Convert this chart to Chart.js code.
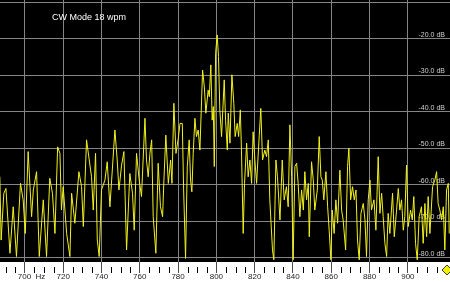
<!DOCTYPE html>
<html>
<head>
<meta charset="utf-8">
<script src="https://cdn.jsdelivr.net/npm/chart.js@4/dist/chart.umd.min.js"></script>
<style>
  html, body { margin: 0; padding: 0; background: #000; }
  #wrap { width: 450px; height: 282px; }
</style>
</head>
<body>
<div id="wrap"><canvas id="c" width="450" height="282"></canvas></div>
<script>
// ---- data ----
const titleText = 'CW Mode 18 wpm';
const majorHz = [700, 720, 740, 760, 780, 800, 820, 840, 860, 880, 900];
const minorHz = [690, 695, 705, 710, 715, 725, 730, 735, 745, 750, 755, 765, 770, 775, 785, 790, 795, 805, 810, 815, 825, 830, 835, 845, 850, 855, 865, 870, 875, 885, 890, 895, 905, 910, 915, 920];
const dbTicks = [-10, -20, -30, -40, -50, -60, -70, -80];
const freqHz = [
  686.9,687.6,689.0,690.1,692.2,693.9,695.6,697.7,699.1,700.2,
  701.7,703.5,704.4,706.1,707.5,709.6,711.3,713.0,714.4,715.7,
  717.1,718.3,719.1,720.0,721.8,723.5,724.4,726.1,728.2,729.6,
  730.5,732.2,733.6,734.8,735.7,736.9,737.8,738.8,740.0,741.8,
  743.0,744.4,747.0,748.2,749.1,750.5,751.7,753.1,754.8,756.2,
  757.1,758.3,759.7,760.9,762.7,763.5,764.4,
  765.3,766.2,767.0,768.4,769.6,770.8,771.9,772.6,773.6,774.9,
  776.1,776.8,777.8,778.9,780.1,781.0,782.2,782.9,783.9,784.8,
  785.8,786.5,787.2,787.9,788.8,789.6,790.5,791.4,792.8,793.7,
  794.5,795.7,796.3,797.1,797.8,798.4,798.9,799.6,800.4,801.1,
  801.8,802.7,803.6,804.1,804.8,805.7,806.2,807.1,808.1,809.1,
  809.8,810.9,811.6,812.5,813.1,814.0,814.7,815.8,816.6,817.5,
  818.4,819.2,820.1,821.0,822.4,823.2,824.1,825.3,826.2,827.1,
  827.9,829.3,830.0,831.1,831.9,833.2,834.4,835.4,836.6,837.5,
  838.4,839.3,840.1,841.0,841.9,842.7,
  843.6,844.5,845.4,846.2,847.1,848.0,848.5,849.7,850.6,851.4,
  852.7,853.7,854.6,855.3,856.1,857.2,858.1,858.9,859.8,860.5,
  861.5,862.4,863.3,864.5,865.4,866.2,867.5,868.5,869.2,870.1,
  871.1,872.0,872.9,873.7,874.6,875.5,876.7,877.6,878.4,879.3,
  880.2,881.0,882.3,883.3,884.5,885.4,886.3,887.1,888.0,888.9,
  889.7,890.6,892.0,892.9,894.1,895.0,895.8,896.7,897.6,898.4,
  899.3,900.2,901.4,902.3,903.1,904.0,904.9,905.9,907.1,908.0,
  908.9,909.8,910.6,911.5,912.9,914.1,915.0,915.8,916.7,917.6,
  918.5,919.3,920.2,921.1,921.6
];
const levelDb = [
  -57.8,-75.1,-62.3,-61.0,-78.7,-66.0,-79.6,-59.6,-64.1,-73.3,
  -50.9,-68.7,-61.4,-56.4,-79.6,-64.1,-79.6,-58.2,-62.3,-73.3,
  -49.6,-51.4,-66.9,-60.5,-73.3,-79.6,-62.3,-70.5,-56.4,-60.5,
  -71.4,-47.7,-53.2,-57.8,-66.9,-51.4,-75.1,-79.6,-61.4,-58.7,
  -53.7,-66.0,-45.0,-53.2,-61.4,-54.6,-50.9,-77.8,-56.9,-62.3,
  -72.4,-51.4,-58.7,-63.2,-41.8,-53.2,-57.8,
  -51.4,-47.7,-68.7,-78.7,-54.1,-66.0,-68.7,-58.7,-46.4,-59.6,
  -53.2,-59.6,-37.7,-51.4,-47.3,-43.2,-43.2,-61.4,-80.1,-55.0,
  -47.7,-58.7,-61.9,-51.4,-41.8,-46.8,-45.0,-50.5,-28.6,-33.2,
  -40.4,-34.1,-35.9,-27.2,-42.3,-38.6,-55.0,-24.0,-19.0,-24.9,
  -39.5,-46.8,-36.8,-31.3,-42.3,-50.5,-40.4,-48.6,-29.9,-37.7,
  -46.8,-43.2,-46.8,-39.5,-50.5,-73.3,-59.6,-48.6,-57.8,-53.2,
  -59.6,-45.5,-53.2,-59.6,-46.4,-39.1,-53.2,-50.5,-52.3,-47.7,
  -64.1,-77.8,-80.5,-53.2,-57.8,-69.6,-53.2,-64.1,-60.5,-66.0,
  -43.6,-57.8,-80.5,-55.0,-54.1,-59.6,
  -68.7,-61.4,-66.9,-56.4,-64.1,-59.6,-74.2,-53.7,-58.7,-66.9,
  -61.4,-46.8,-57.8,-58.7,-64.1,-56.4,-66.0,-72.4,-80.5,-66.9,
  -73.3,-64.1,-70.5,-56.0,-66.9,-69.6,-77.8,-55.0,-50.0,-64.1,
  -60.5,-64.1,-61.4,-75.1,-80.5,-67.8,-65.1,-69.6,-79.6,-64.1,
  -58.7,-66.9,-64.1,-72.4,-52.3,-67.8,-62.3,-68.7,-76.0,-79.6,
  -67.8,-73.3,-62.3,-74.2,-66.9,-61.0,-66.9,-64.1,-72.4,-68.7,
  -54.6,-71.4,-66.9,-69.6,-63.2,-76.0,-80.5,-68.7,-66.0,-76.0,
  -65.1,-74.2,-63.2,-73.3,-60.5,-58.7,-56.4,-65.1,-66.9,-69.6,
  -66.0,-77.8,-61.4,-59.6,-73.3
];
const xRange = [687, 922];
const yRange = [-81.1, -9.45];

// ---- chart ----
const points = freqHz.map((f, i) => ({ x: f, y: levelDb[i] }));
const FONT = "'Liberation Sans', Arial, sans-serif";

const decor = {
  id: 'decor',
  beforeDraw(chart) {
    const { ctx, chartArea, width, height } = chart;
    ctx.save();
    ctx.fillStyle = '#000000';
    ctx.fillRect(0, 0, width, height);
    ctx.fillStyle = '#ffffff';
    ctx.fillRect(0, chartArea.bottom, width, height - chartArea.bottom);
    ctx.restore();
  },
  afterDraw(chart) {
    const { ctx, chartArea, width, height } = chart;
    const xs = chart.scales.x;
    ctx.save();
    // minor ruler ticks
    ctx.strokeStyle = '#000000';
    ctx.lineWidth = 1;
    ctx.beginPath();
    minorHz.forEach(v => {
      const px = Math.round(xs.getPixelForValue(v)) + 0.5;
      ctx.moveTo(px, chartArea.bottom + 5);
      ctx.lineTo(px, chartArea.bottom + 11);
    });
    ctx.stroke();
    // title
    ctx.fillStyle = '#ffffff';
    ctx.font = '9px ' + FONT;
    ctx.textBaseline = 'middle';
    ctx.textAlign = 'left';
    ctx.fillText(titleText, chartArea.left + 52, chartArea.top + 18);
    // marker at right end of ruler
    const cx = width - 3, cy = chartArea.bottom + 8;
    ctx.beginPath();
    ctx.moveTo(cx, cy - 5);
    ctx.lineTo(cx + 5, cy);
    ctx.lineTo(cx, cy + 5);
    ctx.lineTo(cx - 5, cy);
    ctx.closePath();
    ctx.fillStyle = '#f0f000';
    ctx.fill();
    ctx.strokeStyle = '#404040';
    ctx.stroke();
    ctx.restore();
  }
};

new Chart(document.getElementById('c'), {
  type: 'line',
  data: {
    datasets: [{
      data: points,
      borderColor: '#f2f21c',
      borderWidth: 1,
      pointRadius: 0,
      tension: 0,
      fill: false
    }]
  },
  options: {
    responsive: false,
    animation: false,
    devicePixelRatio: 1,
    layout: { padding: 0 },
    plugins: { legend: { display: false }, tooltip: { enabled: false }, title: { display: false } },
    scales: {
      x: {
        type: 'linear',
        position: 'bottom',
        min: xRange[0],
        max: xRange[1],
        afterBuildTicks: s => { s.ticks = majorHz.map(v => ({ value: v })); },
        afterFit: s => { s.height = 20; },
        border: { display: false },
        grid: { color: '#858585', lineWidth: 1, drawTicks: true, tickLength: 11, tickColor: '#4a4a4a' },
        ticks: {
          autoSkip: false, maxRotation: 0, padding: 0,
          color: '#1e1e1e',
          font: { family: FONT, size: 8, lineHeight: 1 },
          callback: v => (v === majorHz[0] ? '      ' + v + '  Hz' : String(v))
        }
      },
      y: {
        position: 'right',
        min: yRange[0],
        max: yRange[1],
        afterBuildTicks: s => { s.ticks = dbTicks.map(v => ({ value: v })); },
        afterFit: s => { s.width = 0; },
        border: { display: false },
        grid: { color: '#858585', lineWidth: 1, drawTicks: false },
        ticks: {
          mirror: true, padding: -5, labelOffset: -4,
          color: '#cfcfcf',
          font: { family: FONT, size: 7 },
          callback: v => v.toFixed(1) + ' dB'
        }
      }
    }
  },
  plugins: [decor]
});
</script>
</body>
</html>
